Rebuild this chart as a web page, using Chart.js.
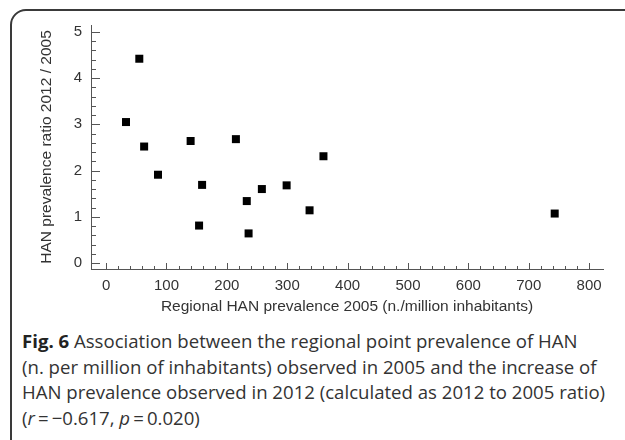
<!DOCTYPE html>
<html>
<head>
<meta charset="utf-8">
<script src="https://cdn.jsdelivr.net/npm/chart.js@4.4.1/dist/chart.umd.min.js"></script>
<style>
  html, body { margin: 0; padding: 0; background: #fff; }
  body { width: 625px; height: 440px; overflow: hidden; position: relative; }
  #frame {
    position: absolute; left: 10px; top: 9px; width: 700px; height: 520px;
    border: 2px solid #3a3a3a; border-radius: 16px; box-sizing: border-box;
  }
  #wrap { position: absolute; left: 0; top: 0; width: 625px; height: 320px; }
  #caption {
    position: absolute; left: 22px; top: 328px; width: 600px;
    font-family: "Open Sans", sans-serif; font-size: 18.6px; line-height: 25.5px;
    color: #333; white-space: nowrap;
  }
  #caption b { color: #222; }
</style>
</head>
<body>
<div id="frame"></div>
<div id="wrap"><canvas id="chart" width="625" height="320"></canvas></div>
<div id="caption"><b>Fig. 6</b> Association between the regional point prevalence of HAN<br>(n. per million of inhabitants) observed in 2005 and the increase of<br>HAN prevalence observed in 2012 (calculated as 2012 to 2005 ratio)<br>(<i>r</i>&#8201;=&#8201;&minus;0.617, <i>p</i>&#8201;=&#8201;0.020)</div>
<script>
    // regional HAN prevalence 2005 and ratio 2012/2005
    const prevalence2005 = [33, 55, 63, 86, 140, 154, 159, 215, 233, 236, 258, 299, 337, 360, 743];
    const ratio2012 = [3.05, 4.42, 2.52, 1.91, 2.64, 0.81, 1.69, 2.68, 1.34, 0.64, 1.60, 1.68, 1.14, 2.31, 1.07];

    const xTicks = [0, 100, 200, 300, 400, 500, 600, 700, 800];
    const yTicks = [0, 1, 2, 3, 4, 5];

    const axisColor = '#555';
    const family = "'Liberation Sans', Arial, sans-serif";
    const labelFont = { family: family, size: 15 };
    const titleFont = { family: family, size: 15.5 };

    const points = prevalence2005.map((x, i) => ({ x: x, y: ratio2012[i] }));

    // inward major/minor tick marks
    const tickMarks = {
        id: 'tickMarks',
        afterDraw(chart) {
            const ctx = chart.ctx;
            const xs = chart.scales.x, ys = chart.scales.y;
            ctx.save();
            ctx.strokeStyle = axisColor;
            ctx.lineWidth = 1;
            ctx.beginPath();
            for (let v = xTicks[0]; v <= xTicks[xTicks.length - 1] + 1e-9; v += 20) {
                const px = Math.round(xs.getPixelForValue(v)) + 0.5;
                const len = (Math.round(v) % 100 === 0) ? 6 : 3;
                ctx.moveTo(px, xs.top);
                ctx.lineTo(px, xs.top - len);
            }
            for (let v = yTicks[0]; v <= yTicks[yTicks.length - 1] + 1e-9; v += 0.2) {
                const py = Math.round(ys.getPixelForValue(v)) + 0.5;
                const len = (Math.abs(v - Math.round(v)) < 1e-6) ? 9 : 5;
                ctx.moveTo(ys.right, py);
                ctx.lineTo(ys.right + len, py);
            }
            ctx.stroke();
            ctx.restore();
        }
    };

    new Chart(document.getElementById('chart'), {
        type: 'scatter',
        data: {
            datasets: [{
                data: points,
                pointStyle: 'rect',
                pointRadius: 5.66,
                pointHoverRadius: 5.66,
                backgroundColor: '#000',
                borderWidth: 0,
            }],
        },
        options: {
            responsive: false,
            animation: false,
            events: [],
            layout: { padding: { left: 25, top: 25, right: 22, bottom: 0 } },
            plugins: { legend: { display: false }, tooltip: { enabled: false } },
            scales: {
                x: {
                    type: 'linear',
                    min: -25,
                    max: 823,
                    afterBuildTicks: (s) => { s.ticks = xTicks.map(v => ({ value: v })); },
                    afterFit: (s) => { s.height = 51; },
                    grid: { display: false, drawTicks: false },
                    border: { display: true, color: axisColor, width: 1 },
                    ticks: { color: '#333', font: labelFont, padding: 8, maxRotation: 0 },
                    title: {
                        display: true,
                        text: 'Regional HAN prevalence 2005 (n./million inhabitants)',
                        color: '#333',
                        font: titleFont,
                        padding: { top: 4, bottom: 4 },
                    },
                },
                y: {
                    type: 'linear',
                    min: -0.13,
                    max: 5.15,
                    afterBuildTicks: (s) => { s.ticks = yTicks.map(v => ({ value: v })); },
                    afterFit: (s) => { s.width = 66; },
                    grid: { display: false, drawTicks: false },
                    border: { display: true, color: axisColor, width: 1 },
                    ticks: { color: '#333', font: labelFont, padding: 9 },
                    title: {
                        display: true,
                        text: 'HAN prevalence ratio 2012 / 2005',
                        color: '#333',
                        font: titleFont,
                        padding: { top: 12, bottom: 12 },
                    },
                },
            },
        },
        plugins: [tickMarks],
    });
</script>
</body>
</html>
